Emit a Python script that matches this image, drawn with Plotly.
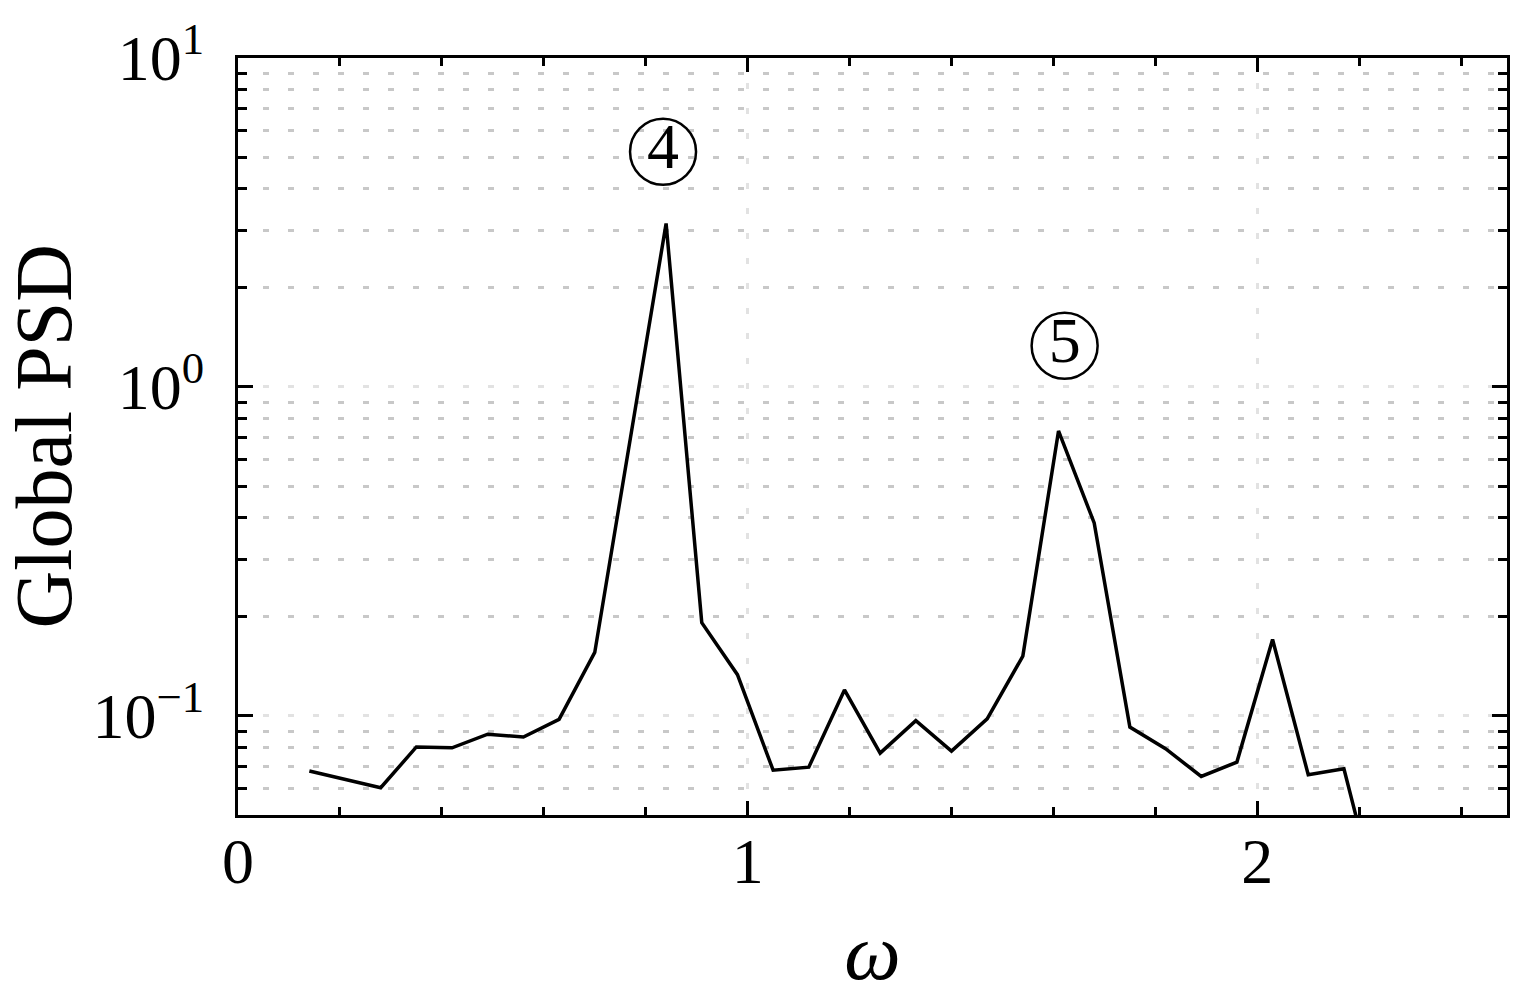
import numpy as np
import plotly.graph_objects as go

# frequency (omega) and global PSD
omega = [0.14, 0.21, 0.28, 0.35, 0.42, 0.49, 0.56, 0.63, 0.70, 0.77,
         0.84, 0.91, 0.98, 1.05, 1.12, 1.19, 1.26, 1.33, 1.40, 1.47,
         1.54, 1.61, 1.68, 1.75, 1.82, 1.89, 1.96, 2.03, 2.10, 2.17, 2.24]
psd = [0.068, 0.064, 0.0605, 0.0805, 0.080, 0.088, 0.0863, 0.0976, 0.156, 0.70,
       3.14, 0.192, 0.1335, 0.0684, 0.0699, 0.120, 0.0771, 0.0968, 0.0782, 0.098,
       0.152, 0.735, 0.386, 0.0925, 0.0795, 0.0655, 0.0724, 0.1707, 0.0663, 0.0691, 0.026]

# mode labels (circled numbers)
label_text = ["4", "5"]
label_x = [0.834, 1.622]
label_y = [5.19, 1.335]

x_ticks = [0, 1, 2]
y_ticks = [0.1, 1, 10]
y_ticktext = ["10<sup>\u22121</sup>", "10<sup>0</sup>", "10<sup>1</sup>"]

serif = "Liberation Serif"
y_minor = [m * 10.0 ** e for e in (-2, -1, 0) for m in range(2, 10)]

fig = go.Figure()
fig.add_trace(go.Scatter(x=omega, y=psd, mode="lines",
                         line=dict(color="black", width=3.5), showlegend=False))

# circled mode numbers
fig.add_trace(go.Scatter(
    x=label_x, y=label_y, mode="markers+text", text=label_text,
    textposition="middle center",
    textfont=dict(family=serif, size=64, color="black"),
    marker=dict(symbol="circle-open", size=66, color="black",
                line=dict(color="black", width=2.5)),
    showlegend=False, hoverinfo="skip", cliponaxis=False,
))

# y title as annotation so it can sit close to the page edge
fig.add_annotation(text="Global PSD", xref="paper", yref="paper", x=0, y=0.5,
                   xanchor="center", yanchor="middle", xshift=-195, textangle=-90,
                   showarrow=False, font=dict(family=serif, size=80, color="black"))

fig.update_layout(
    width=1515, height=999,
    margin=dict(l=238, r=5, t=58, b=184),
    plot_bgcolor="white", paper_bgcolor="white",
    font=dict(family=serif, color="black"),
)
fig.update_xaxes(
    range=[0, 2.49], tickvals=x_ticks, ticks="inside", ticklen=14, tickwidth=3,
    tickcolor="black", showline=True, linewidth=3, linecolor="black", mirror="allticks",
    tickfont=dict(family=serif, size=64), ticklabelstandoff=-12,
    showgrid=True, gridcolor="#e2e2e2", gridwidth=3, griddash="6px,19px",
    zeroline=False,
    minor=dict(dtick=0.2, ticks="inside", ticklen=8, tickwidth=3, tickcolor="black",
               showgrid=False),
    title=dict(text="<i>\u03c9</i>", font=dict(family=serif, size=80), standoff=28),
)
fig.update_yaxes(
    type="log", range=[np.log10(0.05), 1], tickvals=y_ticks, ticktext=y_ticktext,
    ticks="inside", ticklen=15, tickwidth=3, tickcolor="black",
    showline=True, linewidth=3, linecolor="black", mirror="allticks",
    tickfont=dict(family=serif, size=64), ticklabelstandoff=18,
    showgrid=True, gridcolor="#e2e2e2", gridwidth=3, griddash="6px,19px",
    minor=dict(tickmode="array", tickvals=y_minor, ticks="inside", ticklen=9,
               tickwidth=3, tickcolor="black",
               showgrid=True, gridcolor="#c8c8c8", gridwidth=3, griddash="6px,19px"),
)

fig.write_html("out.html", config={"displayModeBar": False},
               post_script="document.body.style.margin='0px';")
